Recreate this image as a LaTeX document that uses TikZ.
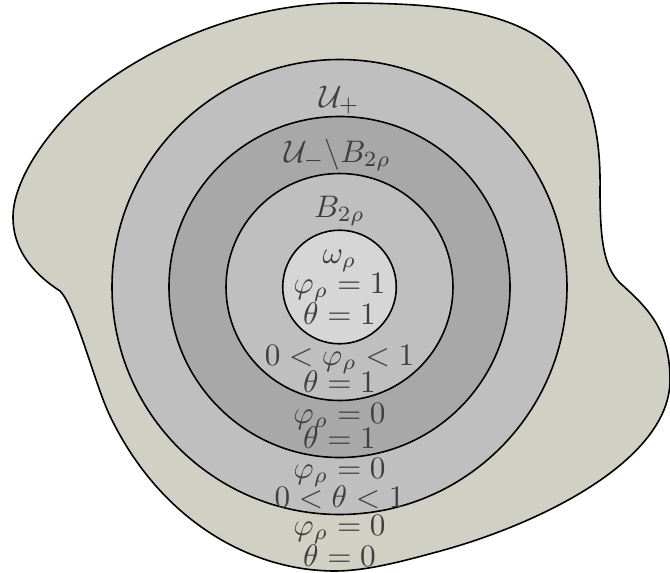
\documentclass[tikz,border=0pt]{standalone}
\usepackage{amsmath}
\usepackage{graphicx}
\definecolor{blobfill}{RGB}{208,208,196}
\definecolor{ringlight}{RGB}{191,191,191}
\definecolor{ringdark}{RGB}{168,168,168}
\definecolor{innerfill}{RGB}{214,214,214}
\definecolor{txt}{RGB}{62,62,62}
\newcommand{\lbltext}[1]{\scalebox{1.56}{$#1$}}
\tikzset{
  outline/.style={draw=black, line width=0.8pt},
  lbl/.style={anchor=base, inner sep=0pt, text=txt},
}
\begin{document}
\begin{tikzpicture}[x=0.5pt, y=-0.5pt]
\useasboundingbox (0,0) rectangle (670,573);
% blob
\draw[outline, fill=blobfill]
  (13,217) .. controls (13,180) and (48,131) .. (83,100)
  .. controls (133,56) and (230,5) .. (340,3)
  .. controls (500,3) and (603,20) .. (600,190)
  .. controls (600,245) and (605,268) .. (620,283)
  .. controls (648,308) and (670,330) .. (670,380)
  .. controls (670,460) and (540,525) .. (433,553)
  .. controls (400,562) and (365,571) .. (335,571)
  .. controls (250,571) and (160,520) .. (110,416)
  .. controls (95,385) and (75,305) .. (60,291)
  .. controls (40,278) and (13,255) .. (13,217) -- cycle;
\coordinate (c) at (339.5,287);
\draw[outline, fill=ringlight] (c) circle[radius=113.75pt];
\draw[outline, fill=ringdark] (c) circle[radius=85.25pt];
\draw[outline, fill=ringlight] (c) circle[radius=56.75pt];
\draw[outline, fill=innerfill] (c) circle[radius=28.4pt];
% labels
\node[lbl] (uplus) at (339.5,107) {\lbltext{\mathcal{U}_+}};
\node[lbl] (uminus) at (337.5,162) {\lbltext{\mathcal{U}_-\backslash B_{2\rho}}};
\node[lbl] (b2r) at (339.5,217) {\lbltext{B_{2\rho}}};
\node[lbl] (om) at (339.5,263) {\lbltext{\omega_\rho}};
\node[lbl] (l1) at (339.5,293) {\lbltext{\varphi_\rho = 1}};
\node[lbl] (l2) at (339.5,324) {\lbltext{\theta = 1}};
\node[lbl] (l3) at (339.5,365) {\lbltext{0 < \varphi_\rho < 1}};
\node[lbl] (l4) at (339.5,392) {\lbltext{\theta = 1}};
\node[lbl] (l5) at (339.5,423) {\lbltext{\varphi_\rho = 0}};
\node[lbl] (l6) at (339.5,448) {\lbltext{\theta = 1}};
\node[lbl] (l7) at (339.5,478) {\lbltext{\varphi_\rho = 0}};
\node[lbl] (l8) at (339.5,507) {\lbltext{0 < \theta < 1}};
\node[lbl] (l9) at (339.5,535) {\lbltext{\varphi_\rho = 0}};
\node[lbl] (l10) at (339.5,566) {\lbltext{\theta = 0}};
\end{tikzpicture}
\end{document}
